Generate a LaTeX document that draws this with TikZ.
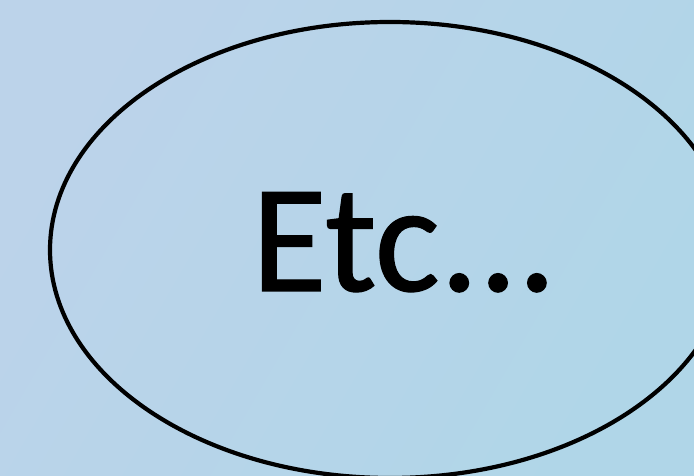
\documentclass[tikz,border=0pt]{standalone}
\usepackage{fontspec}
\setmainfont{Carlito}
\newfontfamily\heavyfont[FakeBold=0.8]{Carlito}
\usetikzlibrary{shapes.geometric}
\definecolor{bgA}{HTML}{BCD3EA}
\definecolor{bgB}{HTML}{B0D6E8}
\tikzset{
  bubble/.style={draw=black, line width=4.2pt, ellipse, minimum width=680pt, minimum height=456pt, inner sep=0pt},
  label/.style={font=\heavyfont\fontsize{154}{180}\selectfont, text=black, inner sep=0pt, anchor=base}
}
\begin{document}
\begin{tikzpicture}[x=1pt,y=1pt]
  \useasboundingbox (0,0) rectangle (694,476);
  \shade[shading=axis, left color=bgA, right color=bgB, shading angle=60] (0,0) rectangle (694,476);
  \clip (0,0) rectangle (694,476);
  \node[bubble] (oval) at (390,226) {};
  \node[label] (etc) at (404,185) {Etc...};
\end{tikzpicture}
\end{document}
